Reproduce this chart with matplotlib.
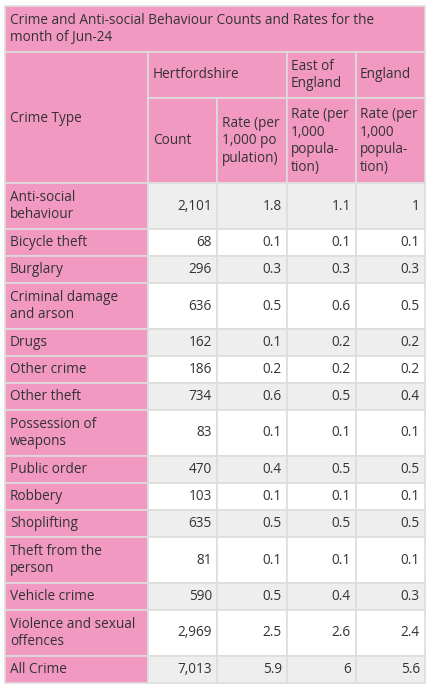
import matplotlib.pyplot as plt
from matplotlib.patches import Rectangle

crime_types = ["Anti-social\nbehaviour", "Bicycle theft", "Burglary", "Criminal damage\nand arson",
               "Drugs", "Other crime", "Other theft", "Possession of\nweapons", "Public order",
               "Robbery", "Shoplifting", "Theft from the\nperson", "Vehicle crime",
               "Violence and sexual\noffences", "All Crime"]
herts_count = ["2,101", "68", "296", "636", "162", "186", "734", "83", "470", "103", "635",
               "81", "590", "2,969", "7,013"]
herts_rate = ["1.8", "0.1", "0.3", "0.5", "0.1", "0.2", "0.6", "0.1", "0.4", "0.1", "0.5",
              "0.1", "0.5", "2.5", "5.9"]
east_rate = ["1.1", "0.1", "0.3", "0.6", "0.2", "0.2", "0.5", "0.1", "0.5", "0.1", "0.5",
             "0.1", "0.4", "2.6", "6"]
eng_rate = ["1", "0.1", "0.3", "0.5", "0.2", "0.2", "0.4", "0.1", "0.5", "0.1", "0.5",
            "0.1", "0.3", "2.4", "5.6"]

PINK = "#f299c1"
GREY = "#eeeeee"
LINE = "#dddddd"
TXT = "#333333"
FS = 9.8

fig = plt.figure(figsize=(4.28, 6.86), dpi=100)
ax = fig.add_axes([0, 0, 1, 1])
ax.set_xlim(0, 428)
ax.set_ylim(686, 0)
ax.axis("off")
plt.rcParams["font.family"] = ["Open Sans", "DejaVu Sans"]

cols = [5, 148, 217, 287, 356, 425]


def cell(x0, y0, x1, y1, color):
    ax.add_patch(Rectangle((x0, y0), x1 - x0, y1 - y0, facecolor=color,
                           edgecolor=LINE, lw=1.2))


def txt(x, y, s, ha="left"):
    ax.text(x, y, s, ha=ha, va="center", fontsize=FS, color=TXT, linespacing=1.25)


# title
cell(5, 6, 425, 52, PINK)
txt(10, 29, "Crime and Anti-social Behaviour Counts and Rates for the\nmonth of Jun-24")

# header
cell(cols[0], 52, cols[1], 183, PINK)
txt(10, 118, "Crime Type")
cell(cols[1], 52, cols[3], 98, PINK)
txt(153, 75, "Hertfordshire")
cell(cols[3], 52, cols[4], 98, PINK)
txt(291, 75, "East of\nEngland")
cell(cols[4], 52, cols[5], 98, PINK)
txt(360, 75, "England")
cell(cols[1], 98, cols[2], 183, PINK)
txt(153, 141, "Count")
cell(cols[2], 98, cols[3], 183, PINK)
txt(222, 141, "Rate (per\n1,000 po\npulation)")
cell(cols[3], 98, cols[4], 183, PINK)
txt(291, 141, "Rate (per\n1,000\npopula-\ntion)")
cell(cols[4], 98, cols[5], 183, PINK)
txt(360, 141, "Rate (per\n1,000\npopula-\ntion)")

# body
y = 183
for i, name in enumerate(crime_types):
    h = 46 if "\n" in name else 27
    bg = GREY if i % 2 == 0 else "white"
    cell(cols[0], y, cols[1], y + h, PINK)
    txt(10, y + h / 2, name)
    vals = [herts_count[i], herts_rate[i], east_rate[i], eng_rate[i]]
    for j, v in enumerate(vals):
        cell(cols[j + 1], y, cols[j + 2], y + h, bg)
        txt(cols[j + 2] - 5, y + h / 2, v, ha="right")
    y += h

fig.savefig("out.png", dpi=100)
